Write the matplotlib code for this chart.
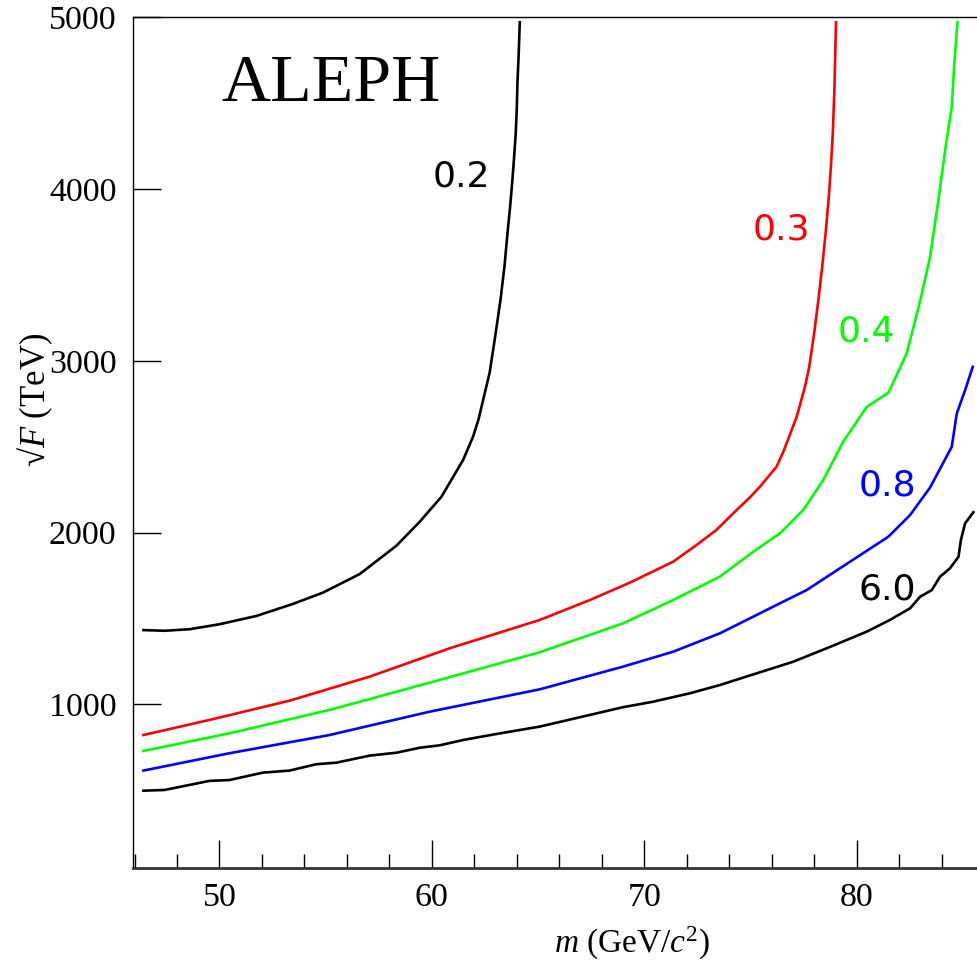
import matplotlib
matplotlib.use("Agg")
import matplotlib.pyplot as plt
from matplotlib.ticker import MultipleLocator

plt.rcParams["font.family"] = "Liberation Serif"
plt.rcParams["mathtext.fontset"] = "custom"
plt.rcParams["mathtext.rm"] = "Liberation Serif"
plt.rcParams["mathtext.it"] = "Liberation Serif:italic"

# curve "0.2"
m_02 = [46.42, 47.41, 48.59, 50.0, 51.73, 53.45, 54.87, 56.6, 58.33, 59.43, 60.45,
        61.47, 61.94, 62.2, 62.45, 62.72, 62.98, 63.23, 63.42, 63.56, 63.68, 63.78,
        63.87, 63.95, 64.0, 64.03, 64.09, 64.14]
f_02 = [1432, 1428, 1437, 1466, 1514, 1584, 1650, 1758, 1923, 2063, 2208,
        2422, 2558, 2660, 2790, 2930, 3140, 3353, 3550, 3741, 3890, 4033,
        4180, 4324, 4470, 4615, 4790, 4971]

# curve "0.3"
m_03 = [46.42, 49.53, 53.3, 57.07, 60.84, 65.08, 67.44, 69.32, 71.36, 72.46, 73.4,
        74.35, 74.98, 75.45, 76.23, 76.55, 77.18, 77.57, 77.77, 78.0, 78.2, 78.38,
        78.54, 78.68, 78.79, 78.88, 78.96, 79.03]
f_03 = [821, 909, 1021, 1161, 1326, 1491, 1607, 1708, 1830, 1927, 2015,
        2131, 2205, 2267, 2383, 2470, 2674, 2849, 2965, 3159, 3353, 3547,
        3741, 3935, 4130, 4324, 4600, 4971]

# curve "0.4"
m_04 = [46.42, 50.47, 55.18, 59.9, 65.08, 69.0, 71.36, 73.56, 75.13, 76.39, 77.49,
        78.43, 79.37, 80.48, 81.5, 82.36, 83.0, 83.46, 83.85, 84.17, 84.48, 84.59, 84.75]
f_04 = [728, 831, 967, 1126, 1303, 1471, 1607, 1743, 1888, 1995, 2131,
        2306, 2529, 2732, 2814, 3043, 3353, 3605, 3935, 4226, 4478, 4711, 4971]

# curve "0.8"
m_08 = [46.42, 50.47, 55.18, 59.9, 65.08, 69.0, 71.36, 73.56, 75.13, 76.39, 77.65,
        79.22, 81.5, 82.52, 83.46, 84.48, 84.72, 85.11, 85.47]
f_08 = [614, 715, 821, 957, 1087, 1219, 1306, 1413, 1510, 1588, 1665,
        1792, 1976, 2102, 2262, 2499, 2694, 2829, 2965]

# curve "6.0"
m_60 = [46.42, 47.41, 49.53, 50.47, 52.04, 53.3, 54.56, 55.5, 57.07, 58.33, 59.43,
        60.37, 61.47, 63.04, 65.08, 67.44, 69.0, 70.42, 72.15, 73.56, 75.29, 77.02,
        78.77, 80.48, 81.57, 82.52, 82.99, 83.54, 83.93, 84.4, 84.8, 84.91, 85.11, 85.5]
f_60 = [497, 501, 554, 559, 602, 614, 651, 660, 701, 718, 747,
        761, 792, 827, 870, 938, 983, 1015, 1064, 1112, 1180, 1248,
        1335, 1423, 1491, 1559, 1626, 1665, 1743, 1792, 1859, 1956, 2054, 2118]

curves = [
    (m_02, f_02, "black", "0.2", 61.38, 4075),
    (m_03, f_03, "#ff0000", "0.3", 76.44, 3767),
    (m_04, f_04, "#00ff00", "0.4", 80.44, 3173),
    (m_08, f_08, "#0000ff", "0.8", 81.43, 2271),
    (m_60, f_60, "black", "6.0", 81.43, 1671),
]

fig = plt.figure(figsize=(9.77, 9.66), dpi=100)
ax = fig.add_axes([0.1364, 0.1018, 0.8636, 0.8803])

for m, f, col, lab, lx, ly in curves:
    ax.plot(m, f, color=col, lw=1.9)
    ax.text(lx, ly, lab, color=col, fontsize=26, family="DejaVu Sans",
            ha="center", va="center")

ax.text(0.234, 0.9215, "ALEPH", transform=ax.transAxes, fontsize=49,
        ha="center", va="center")

ax.set_xlim(45.94, 85.67)
ax.set_ylim(48.7, 5000)

ax.xaxis.set_major_locator(MultipleLocator(10))
ax.xaxis.set_minor_locator(MultipleLocator(2))
ax.yaxis.set_major_locator(MultipleLocator(1000))

ax.tick_params(axis="x", which="major", direction="in", length=20, width=1,
               labelsize=24.5, pad=11, top=False)
ax.tick_params(axis="x", which="minor", direction="in", length=10, width=1,
               top=False)
ax.tick_params(axis="y", which="major", direction="in", length=20.5, width=1,
               labelsize=24.5, pad=12, right=False)

ax.spines["right"].set_visible(False)
ax.spines["top"].set_linewidth(1)
ax.spines["left"].set_linewidth(1)
ax.spines["bottom"].set_linewidth(2)
ax.spines["bottom"].set_color("#333333")

ax.set_xlabel(r"$m$ (GeV/$c^2$)", fontsize=24, va="center")
ax.xaxis.set_label_coords(0.591, -0.0886)
ax.set_ylabel("\u221a$F$ (TeV)", fontsize=25, va="center")
ax.yaxis.set_label_coords(-0.1165, 0.55)

fig.savefig("out.png", dpi=100)
